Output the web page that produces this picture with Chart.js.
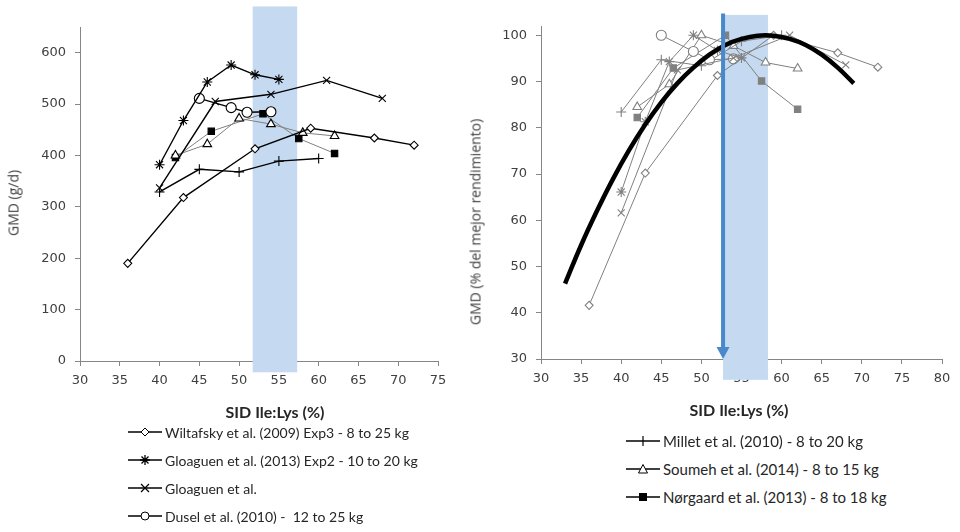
<!DOCTYPE html>
<html>
<head>
<meta charset="utf-8">
<script src="https://cdn.jsdelivr.net/npm/chart.js@4/dist/chart.umd.min.js"></script>
<style>
  body { margin:0; background:#fff; width:960px; height:532px; overflow:hidden; position:relative; font-family:Lato, "Liberation Sans", sans-serif; }
  #wrapL { position:absolute; left:0; top:0; }
  #wrapR { position:absolute; left:460px; top:0; }
  .xt { position:absolute; font-weight:bold; font-size:16px; color:#262626; transform:translate(-50%,-50%); white-space:nowrap; }
  .yt { position:absolute; font-family:"Open Sans", sans-serif; font-size:14px; color:#404040; transform:translate(-50%,-50%) rotate(-90deg); white-space:nowrap; }
  .leg { position:absolute; color:#262626; }
  .leg div { height:28px; display:flex; align-items:center; white-space:pre; }
  .leg svg { margin-right:3px; }
</style>
</head>
<body>
<div id="wrapL"><canvas id="chartL" width="475" height="425"></canvas></div>
<div id="wrapR"><canvas id="chartR" width="500" height="425"></canvas></div>

<div class="xt" style="left:275px;top:411px;">SID Ile:Lys (%)</div>
<div class="xt" style="left:739px;top:409px;">SID Ile:Lys (%)</div>
<div class="yt" style="left:13px;top:203px;">GMD (g/d)</div>
<div class="yt" style="left:475px;top:222px;">GMD (% del mejor rendimiento)</div>

<div class="leg" id="legL" style="left:128px;top:418px;font-size:14px;"></div>
<div class="leg" id="legR" style="left:626px;top:427px;font-size:15px;"></div>

<script>
// ticks
let xTicksL = [30, 35, 40, 45, 50, 55, 60, 65, 70, 75];
let yTicksL = [0, 100, 200, 300, 400, 500, 600];
let xTicksR = [30, 35, 40, 45, 50, 55, 60, 65, 70, 75, 80];
let yTicksR = [30, 40, 50, 60, 70, 80, 90, 100];

// GMD (g/d) - grafico izquierdo
let wiltX = [36, 43, 52, 59, 67, 72];
let wiltY = [190, 318, 413, 453, 434, 420];
let glo13X = [40, 43, 46, 49, 52, 55];
let glo13Y = [382, 468, 543, 576, 557, 548];
let gloX = [40, 47, 54, 61, 68];
let gloY = [337, 505, 519, 546, 511];
let duselX = [45, 49, 51, 54];
let duselY = [511, 493, 484, 485];
let milletX = [40, 45, 50, 55, 60];
let milletY = [329, 373, 368, 389, 394];
let soumehX = [42, 46, 50, 54, 58, 62];
let soumehY = [400, 422, 472, 461, 444, 438];
let norX = [42, 46.5, 53, 57.5, 62];
let norY = [396, 447, 481, 433, 404];

// % del mejor rendimiento - grafico derecho
let wiltP = [41.6, 70.2, 91.3, 100, 96.2, 93.1];
let glo13P = [66.1, 81.3, 94.3, 100, 96.7, 95.1];
let gloP = [61.6, 92.5, 95.1, 100, 93.6];
let duselP = [100, 96.5, 94.7, 94.9];
let milletP = [83.4, 94.7, 93.4, 98.7, 100];
let soumehP = [84.5, 89.4, 100, 97.7, 94.1, 92.8];
let norP = [82.2, 92.9, 100, 90.1, 84.0];

// curva ajustada
let fitX = [33, 35, 37, 39, 41, 43, 45, 47, 49, 51, 53, 55, 57, 59, 61, 63, 65, 67, 69];
let fitY = [46.3, 54.6, 62.1, 69.0, 75.2, 80.7, 85.5, 89.6, 93.0, 95.8, 97.9, 99.2, 99.9, 99.9, 99.2, 97.9, 95.8, 93.0, 89.6];

// banda recomendada y flecha
let bandL = [51.7, 57.3];
let bandR = [52.7, 58.3];
let arrowAt = 52.7;

let legendL = ['Wiltafsky et al. (2009) Exp3 - 8 to 25 kg', 'Gloaguen et al. (2013) Exp2 - 10 to 20 kg', 'Gloaguen et al.', 'Dusel et al. (2010) -  12 to 25 kg'];
let legendR = ['Millet et al. (2010) - 8 to 20 kg', 'Soumeh et al. (2014) - 8 to 15 kg', 'Nørgaard et al. (2013) - 8 to 18 kg'];

const pts = (xs, ys) => xs.map((x, i) => ({ x: x, y: ys[i] }));

const tickFont = { family: '"DejaVu Sans"', size: 13 };
const axisCol = '#868686';
const BLUE_BAND = '#c5daf1';

function serie(data, style, line, mark, fill, r) {
  return {
    data: data, showLine: true, order: 1,
    borderColor: line, borderWidth: line === '#000' ? 1.4 : 1,
    pointStyle: style, pointRadius: r || 4.5, pointBorderColor: mark,
    pointBackgroundColor: fill, pointBorderWidth: 1.1, clip: false
  };
}

function axes(xt, yt, xmin, xmax, ymin, ymax, yw, xh) {
  return {
    x: {
      type: 'linear', min: xmin, max: xmax,
      afterBuildTicks: s => { s.ticks = xt.map(v => ({ value: v })); },
      afterFit: s => { s.height = xh; },
      grid: { drawOnChartArea: false, tickLength: 5, color: axisCol },
      border: { color: axisCol },
      ticks: { font: tickFont, color: '#404040', padding: 7, maxRotation: 0 }
    },
    y: {
      type: 'linear', min: ymin, max: ymax,
      afterBuildTicks: s => { s.ticks = yt.map(v => ({ value: v })); },
      afterFit: s => { s.width = yw; },
      grid: { drawOnChartArea: false, tickLength: 5, color: axisCol },
      border: { color: axisCol },
      ticks: { font: tickFont, color: '#404040', padding: 9 }
    }
  };
}

const bandPlugin = {
  id: 'band',
  beforeDatasetsDraw(chart, args, o) {
    const x = chart.scales.x, y = chart.scales.y, ctx = chart.ctx;
    const x0 = x.getPixelForValue(o.from), x1 = x.getPixelForValue(o.to);
    const y0 = y.getPixelForValue(o.top), y1 = y.getPixelForValue(o.bottom);
    ctx.save();
    ctx.fillStyle = BLUE_BAND;
    ctx.fillRect(x0, y0, x1 - x0, y1 - y0);
    ctx.restore();
  }
};

const arrowPlugin = {
  id: 'arrow',
  afterDatasetsDraw(chart, args, o) {
    if (!o.at) return;
    const x = chart.scales.x, y = chart.scales.y, ctx = chart.ctx;
    const px = x.getPixelForValue(o.at);
    const top = y.getPixelForValue(o.top), tip = y.getPixelForValue(o.tip);
    ctx.save();
    ctx.strokeStyle = '#4a88cc';
    ctx.fillStyle = '#4a88cc';
    ctx.lineWidth = 4;
    ctx.beginPath();
    ctx.moveTo(px, top);
    ctx.lineTo(px, tip - 10);
    ctx.stroke();
    ctx.beginPath();
    ctx.moveTo(px - 6.5, tip - 12);
    ctx.lineTo(px + 6.5, tip - 12);
    ctx.lineTo(px, tip);
    ctx.closePath();
    ctx.fill();
    ctx.restore();
  }
};

const common = {
  responsive: false, animation: false,
  plugins: { legend: { display: false }, tooltip: { enabled: false } }
};

// grafico izquierdo
new Chart(document.getElementById('chartL'), {
  type: 'scatter',
  data: {
    datasets: [
      serie(pts(wiltX, wiltY), 'rectRot', '#000', '#000', '#fff', 4),
      serie(pts(glo13X, glo13Y), 'star', '#000', '#000', '#000', 5),
      serie(pts(gloX, gloY), 'crossRot', '#000', '#000', '#000', 5),
      serie(pts(duselX, duselY), 'circle', '#000', '#000', '#fff', 5),
      serie(pts(milletX, milletY), 'cross', '#000', '#000', '#000', 5),
      serie(pts(soumehX, soumehY), 'triangle', '#808080', '#000', '#fff', 5),
      serie(pts(norX, norY), 'rect', '#808080', '#000', '#000', 4.5)
    ]
  },
  options: Object.assign({}, common, {
    layout: { padding: { top: 27, right: 37, left: 0, bottom: 0 } },
    scales: axes(xTicksL, yTicksL, 30, 75, 0, 650, 80, 64),
    plugins: Object.assign({}, common.plugins, {
      band: { from: bandL[0], to: bandL[1], top: 690, bottom: -22 },
      arrow: {}
    })
  }),
  plugins: [bandPlugin, arrowPlugin]
});

// grafico derecho
const G = '#808080';
new Chart(document.getElementById('chartR'), {
  type: 'scatter',
  data: {
    datasets: [
      { data: pts(fitX, fitY), showLine: true, order: 0, borderColor: '#000', borderWidth: 4.5,
        pointRadius: 0, tension: 0.4, clip: false },
      serie(pts(wiltX, wiltP), 'rectRot', G, G, '#fff', 4),
      serie(pts(glo13X, glo13P), 'star', G, G, G, 5),
      serie(pts(gloX, gloP), 'crossRot', G, G, G, 5),
      serie(pts(duselX, duselP), 'circle', G, G, '#fff', 5),
      serie(pts(milletX, milletP), 'cross', G, G, G, 5),
      serie(pts(soumehX, soumehP), 'triangle', G, G, '#fff', 5),
      serie(pts(norX, norP), 'rect', G, G, G, 4.5)
    ]
  },
  options: Object.assign({}, common, {
    layout: { padding: { top: 26, right: 18, left: 0, bottom: 0 } },
    scales: axes(xTicksR, yTicksR, 30, 80, 30, 102, 81, 66),
    plugins: Object.assign({}, common.plugins, {
      band: { from: bandR[0], to: bandR[1], top: 104.4, bottom: 25.5 },
      arrow: { at: arrowAt, top: 104.7, tip: 30 }
    })
  }),
  plugins: [bandPlugin, arrowPlugin]
});

// leyendas
function symbol(style, line, mark, fill) {
  let m = '';
  if (style === 'rectRot') m = '<polygon points="17,2 21,6 17,10 13,6" fill="' + fill + '" stroke="' + mark + '"/>';
  if (style === 'star') m = '<path d="M12,6H22M17,1V11M13.5,2.5L20.5,9.5M20.5,2.5L13.5,9.5" stroke="' + mark + '" stroke-width="1.3"/>';
  if (style === 'crossRot') m = '<path d="M13,2L21,10M21,2L13,10" stroke="' + mark + '" stroke-width="1.2"/>';
  if (style === 'circle') m = '<circle cx="17" cy="6" r="4" fill="' + fill + '" stroke="' + mark + '"/>';
  if (style === 'cross') m = '<path d="M17,1V11" stroke="' + mark + '" stroke-width="1.2"/>';
  if (style === 'triangle') m = '<polygon points="17,1.5 21.5,10 12.5,10" fill="' + fill + '" stroke="' + mark + '"/>';
  if (style === 'rect') m = '<rect x="13" y="2" width="8" height="8" fill="' + fill + '"/>';
  return '<svg width="34" height="12" viewBox="0 0 34 12"><line x1="0" y1="6" x2="34" y2="6" stroke="' + line + '" stroke-width="1.3"/>' + m + '</svg>';
}
const legL = document.getElementById('legL');
const symL = [['rectRot', '#000', '#000', '#fff'], ['star', '#000', '#000', '#000'], ['crossRot', '#000', '#000', '#000'], ['circle', '#000', '#000', '#fff']];
legendL.forEach((t, i) => { legL.innerHTML += '<div>' + symbol.apply(null, symL[i]) + '<span>' + t + '</span></div>'; });
const legR = document.getElementById('legR');
const symR = [['cross', '#000', '#000', '#000'], ['triangle', '#000', '#000', '#fff'], ['rect', '#000', '#000', '#000']];
legendR.forEach((t, i) => { legR.innerHTML += '<div>' + symbol.apply(null, symR[i]) + '<span>' + t + '</span></div>'; });
</script>
</body>
</html>
